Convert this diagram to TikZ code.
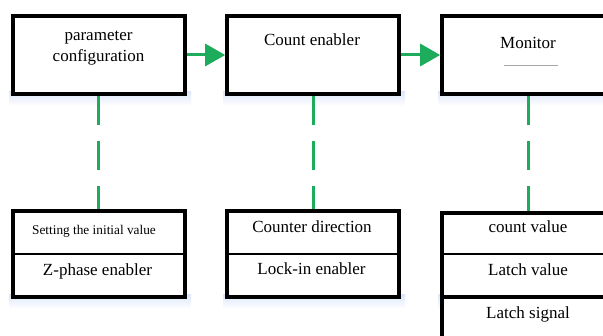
\documentclass[tikz,border=0pt]{standalone}
\usepackage{fontspec}
\setmainfont{Liberation Serif}
\usetikzlibrary{arrows.meta,calc}
\definecolor{lgreen}{RGB}{28,172,92}
\definecolor{shadowblue}{RGB}{222,232,250}
\tikzset{
  boxframe/.style={draw=black, line width=3.6pt, fill=white, minimum width=172pt, inner sep=0pt},
  lbl/.style={inner sep=0pt, font=\rmfamily\fontsize{17}{21}\selectfont, align=center},
  smalllbl/.style={inner sep=0pt, font=\rmfamily\fontsize{13.3}{16}\selectfont},
  flowarrow/.style={draw=lgreen, line width=3pt, -{Triangle[length=20pt,width=22pt]}},
  linkdash/.style={draw=lgreen, line width=3pt, dash pattern=on 29pt off 16pt},
  divider/.style={draw=black, line width=2.8pt},
}
\begin{document}
\begin{tikzpicture}[x=1pt,y=-1pt]
\useasboundingbox (0,0) rectangle (603,336);
\clip (0,0) rectangle (603,336);
% soft shadows
\foreach \cx in {99,313,528}{
  \shade[top color=shadowblue, bottom color=white] (\cx-90,92) rectangle (\cx+92,106);
  \shade[top color=shadowblue, bottom color=white] (\cx-90,295) rectangle (\cx+92,309);
}
% top boxes
\node[boxframe, minimum height=78pt] (pc) at (99,55) {};
\node[boxframe, minimum height=78pt] (ce) at (313,55) {};
\node[boxframe, minimum height=78pt] (mo) at (528,55) {};
\node[lbl] (pctext) at (98.5,48) {parameter\\configuration};
\node[lbl] (cetext) at (312,40) {Count enabler};
\node[lbl] (motext) at (528,43) {Monitor};
\draw[gray!70, line width=0.8pt] (504,65) -- (558,65);
% bottom boxes
\node[boxframe, minimum height=86pt] (pcl) at (99,254) {};
\node[boxframe, minimum height=86pt] (cel) at (313,254) {};
\node[boxframe, minimum height=150pt, anchor=north] (mol) at (528,211) {};
\draw[divider] (pcl.west) -- (pcl.east);
\draw[divider] (cel.west) -- (cel.east);
\coordinate (d1l) at (442,254);
\coordinate (d1r) at (614,254);
\coordinate (d2l) at (442,297);
\coordinate (d2r) at (614,297);
\draw[divider] (d1l) -- (d1r);
\draw[boxframe] (d2l) -- (d2r);
\node[smalllbl] (t1) at (94,231) {Setting the initial value};
\node[lbl] (t2) at (97.5,271) {Z-phase enabler};
\node[lbl] (t3) at (312,227) {Counter direction};
\node[lbl] (t4) at (311.5,269) {Lock-in enabler};
\node[lbl] (t5) at (528,227) {count value};
\node[lbl] (t6) at (528,270) {Latch value};
\node[lbl] (t7) at (528,314) {Latch signal};
% connectors
\draw[flowarrow] (pc.east) -- (ce.west);
\draw[flowarrow] (ce.east) -- (mo.west);
\draw[linkdash] ([xshift=-1pt]pc.south) -- ([xshift=-1pt]pcl.north);
\draw[linkdash] (ce.south) -- (cel.north);
\draw[linkdash] (mo.south) -- (mol.north);
\end{tikzpicture}
\end{document}
